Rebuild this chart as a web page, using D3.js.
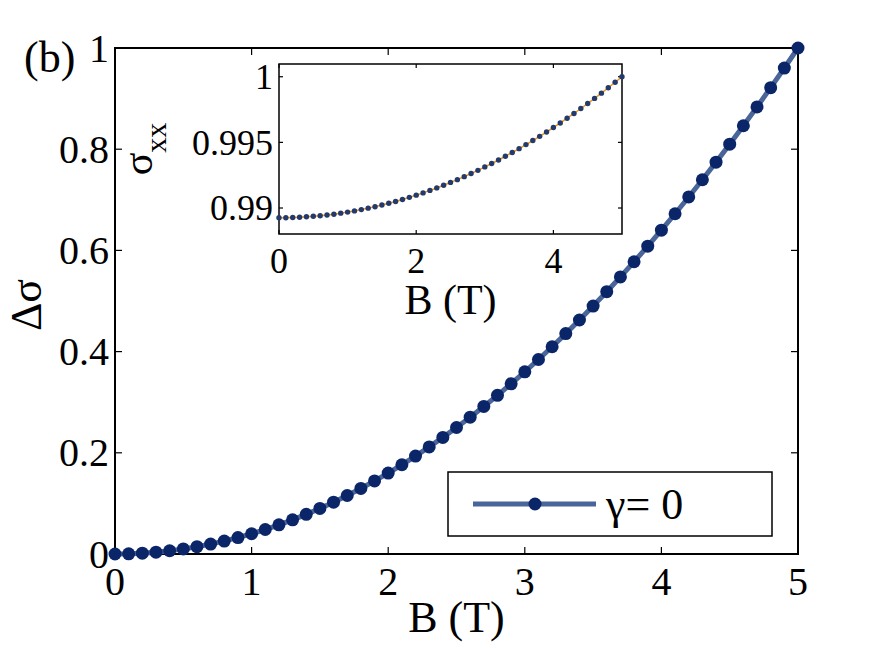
<!DOCTYPE html>
<html>
<head>
<meta charset="utf-8">
<script src="https://cdn.jsdelivr.net/npm/d3@7"></script>
<style>
  html, body { margin: 0; padding: 0; background: #ffffff; }
  svg text, svg tspan { font-family: 'Liberation Serif', 'Times New Roman', serif !important; }
</style>
</head>
<body>
<div id="chart"></div>
<script>
// magnetic field B (T)
const fieldB = [
  0, 0.1, 0.2, 0.3, 0.4, 0.5, 0.6, 0.7, 0.8, 0.9,
  1, 1.1, 1.2, 1.3, 1.4, 1.5, 1.6, 1.7, 1.8, 1.9,
  2, 2.1, 2.2, 2.3, 2.4, 2.5, 2.6, 2.7, 2.8, 2.9,
  3, 3.1, 3.2, 3.3, 3.4, 3.5, 3.6, 3.7, 3.8, 3.9,
  4, 4.1, 4.2, 4.3, 4.4, 4.5, 4.6, 4.7, 4.8, 4.9, 5
]
// main panel: normalised change of conductivity
const deltaSigma = [
  0, 0.0004, 0.0016, 0.0036, 0.0064, 0.01, 0.0144, 0.0196, 0.0256, 0.0324,
  0.04, 0.0484, 0.0576, 0.0676, 0.0784, 0.09, 0.1024, 0.1156, 0.1296, 0.1444,
  0.16, 0.1764, 0.1936, 0.2116, 0.2304, 0.25, 0.2704, 0.2916, 0.3136, 0.3364,
  0.36, 0.3844, 0.4096, 0.4356, 0.4624, 0.49, 0.5184, 0.5476, 0.5776, 0.6084,
  0.64, 0.6724, 0.7056, 0.7396, 0.7744, 0.81, 0.8464, 0.8836, 0.9216, 0.9604, 1
]
// inset: sigma_xx
const sigmaXX = [
  0.98926, 0.98926, 0.98928, 0.98930, 0.98933, 0.98937, 0.98941, 0.98947, 0.98953, 0.98961,
  0.98969, 0.98978, 0.98988, 0.98999, 0.99010, 0.99023, 0.99036, 0.99050, 0.99065, 0.99081,
  0.99098, 0.99115, 0.99134, 0.99153, 0.99173, 0.99195, 0.99216, 0.99239, 0.99263, 0.99287,
  0.99313, 0.99339, 0.99366, 0.99394, 0.99423, 0.99452, 0.99483, 0.99514, 0.99546, 0.99579,
  0.99613, 0.99648, 0.99684, 0.99720, 0.99758, 0.99796, 0.99835, 0.99875, 0.99916, 0.99958, 1.00000
]

const mainXTicks = [0, 1, 2, 3, 4, 5]
const mainYTicks = [0, 0.2, 0.4, 0.6, 0.8, 1]
const insetXTicks = [0, 2, 4]
const insetYTicks = [0.99, 0.995, 1]
const legendLabel = 'γ= 0'
const panelLabel = '(b)'

const totalWidth = 882
const totalHeight = 648
const main = { left: 115, right: 798, top: 48, bottom: 554 }
const inset = { left: 279, right: 622, top: 64, bottom: 234 }

const fontFamily = "'Liberation Serif'"
const lineColor = '#4a6598'
const markerColor = '#0b2569'
const insetLineColor = '#f0960f'
const insetMarkerColor = '#24396c'

const svg = d3.select('#chart')
  .append('svg')
  .attr('width', totalWidth)
  .attr('height', totalHeight)

function label(g, size) {
  return g.append('text')
    .attr('font-family', fontFamily)
    .attr('font-size', size)
    .attr('fill', '#000')
}

function frame(g, box, x, y, xTicks, yTicks, tickLen, strokeWidth, fontSize, xLabelDy) {
  const w = box.right - box.left
  const h = box.bottom - box.top

  g.append('rect')
    .attr('x', box.left).attr('y', box.top)
    .attr('width', w).attr('height', h)
    .attr('fill', 'white')

  // mirrored inward ticks, MATLAB style
  const ax = g.append('g').attr('stroke', '#000').attr('stroke-width', 1.2)
  xTicks.forEach(t => {
    ax.append('line').attr('x1', x(t)).attr('x2', x(t)).attr('y1', box.bottom).attr('y2', box.bottom - tickLen)
    ax.append('line').attr('x1', x(t)).attr('x2', x(t)).attr('y1', box.top).attr('y2', box.top + tickLen)
  })
  yTicks.forEach(t => {
    ax.append('line').attr('y1', y(t)).attr('y2', y(t)).attr('x1', box.left).attr('x2', box.left + tickLen)
    ax.append('line').attr('y1', y(t)).attr('y2', y(t)).attr('x1', box.right).attr('x2', box.right - tickLen)
  })

  g.append('rect')
    .attr('x', box.left).attr('y', box.top)
    .attr('width', w).attr('height', h)
    .attr('fill', 'none')
    .attr('stroke', '#000')
    .attr('stroke-width', strokeWidth)

  g.append('g').selectAll('text')
    .data(xTicks)
    .join('text')
    .attr('font-family', fontFamily)
    .attr('font-size', fontSize)
    .attr('x', d => x(d))
    .attr('y', box.bottom + xLabelDy)
    .attr('text-anchor', 'middle')
    .text(d => d)

  g.append('g').selectAll('text')
    .data(yTicks)
    .join('text')
    .attr('font-family', fontFamily)
    .attr('font-size', fontSize)
    .attr('x', box.left - 6)
    .attr('y', d => y(d))
    .attr('dy', '0.34em')
    .attr('text-anchor', 'end')
    .text(d => d)
}

// ---- main panel ----
const x = d3.scaleLinear().domain([0, 5]).range([main.left, main.right])
const y = d3.scaleLinear().domain([0, 1]).range([main.bottom, main.top])

const mainG = svg.append('g')
frame(mainG, main, x, y, mainXTicks, mainYTicks, 7, 2, 40, 41)

const points = fieldB.map((b, i) => ({ b, v: deltaSigma[i] }))

mainG.append('path')
  .datum(points)
  .attr('fill', 'none')
  .attr('stroke', lineColor)
  .attr('stroke-width', 5)
  .attr('d', d3.line().x(d => x(d.b)).y(d => y(d.v)))

mainG.append('g').selectAll('circle')
  .data(points)
  .join('circle')
  .attr('cx', d => x(d.b))
  .attr('cy', d => y(d.v))
  .attr('r', 6.5)
  .attr('fill', markerColor)

label(mainG, 44)
  .attr('x', (main.left + main.right) / 2)
  .attr('y', 632)
  .attr('text-anchor', 'middle')
  .text('B (T)')

label(mainG, 44)
  .attr('transform', `translate(41,${(main.top + main.bottom) / 2 + 4}) rotate(-90)`)
  .attr('text-anchor', 'middle')
  .text('Δσ')

label(mainG, 44)
  .attr('x', 24)
  .attr('y', 72)
  .text(panelLabel)

// legend
const legend = mainG.append('g')
legend.append('rect')
  .attr('x', 448).attr('y', 472)
  .attr('width', 324).attr('height', 64)
  .attr('fill', 'white')
  .attr('stroke', '#000')
  .attr('stroke-width', 1.5)
legend.append('line')
  .attr('x1', 473).attr('x2', 596)
  .attr('y1', 504).attr('y2', 504)
  .attr('stroke', lineColor)
  .attr('stroke-width', 5)
legend.append('circle')
  .attr('cx', 535).attr('cy', 504)
  .attr('r', 6.5)
  .attr('fill', markerColor)
label(legend, 44)
  .attr('x', 606)
  .attr('y', 519)
  .text(legendLabel)

// ---- inset ----
const xi = d3.scaleLinear().domain([0, 5]).range([inset.left, inset.right])
const yi = d3.scaleLinear().domain([0.98802, 1.00097]).range([inset.bottom, inset.top])

const insetG = svg.append('g')
frame(insetG, inset, xi, yi, insetXTicks, insetYTicks, 4, 1.5, 36, 39)

const insetPoints = fieldB.map((b, i) => ({ b, v: sigmaXX[i] }))

insetG.append('path')
  .datum(insetPoints)
  .attr('fill', 'none')
  .attr('stroke', insetLineColor)
  .attr('stroke-width', 1.5)
  .attr('d', d3.line().x(d => xi(d.b)).y(d => yi(d.v)))

insetG.append('g').selectAll('circle')
  .data(insetPoints)
  .join('circle')
  .attr('cx', d => xi(d.b))
  .attr('cy', d => yi(d.v))
  .attr('r', 2.7)
  .attr('fill', insetMarkerColor)

label(insetG, 42)
  .attr('x', (inset.left + inset.right) / 2)
  .attr('y', 314)
  .attr('text-anchor', 'middle')
  .text('B (T)')

const insetYLabel = label(insetG, 42)
  .attr('transform', `translate(152,${(inset.top + inset.bottom) / 2}) rotate(-90)`)
  .attr('text-anchor', 'middle')
insetYLabel.append('tspan').text('σ')
insetYLabel.append('tspan')
  .attr('dy', '0.45em')
  .attr('font-size', 30)
  .text('xx')
</script>
</body>
</html>
